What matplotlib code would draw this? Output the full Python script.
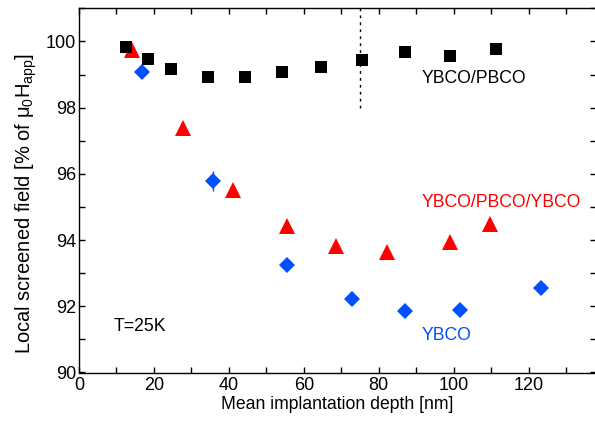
import matplotlib
matplotlib.use("Agg")
import matplotlib.pyplot as plt
from matplotlib.ticker import MultipleLocator

plt.rcParams['font.family'] = ['Liberation Sans', 'DejaVu Sans']
plt.rcParams['mathtext.fontset'] = 'custom'
plt.rcParams['mathtext.rm'] = 'Liberation Sans'
plt.rcParams['mathtext.it'] = 'Liberation Sans'

# YBCO/PBCO (black squares)
pb_x = [12.5, 18.5, 24.6, 34.4, 44.2, 54.1, 64.6, 75.5, 86.9, 98.9, 111.2]
pb_y = [99.83, 99.48, 99.18, 98.94, 98.94, 99.07, 99.22, 99.45, 99.69, 99.56, 99.76]

# YBCO/PBCO/YBCO (red triangles)
pby_x = [14.2, 27.7, 41.2, 55.6, 68.6, 82.3, 98.9, 109.6]
pby_y = [99.75, 97.39, 95.5, 94.42, 93.82, 93.63, 93.94, 94.48]

# YBCO (blue diamonds)
y_x = [16.7, 35.7, 55.6, 73.0, 87.1, 101.8, 123.4]
y_y = [99.07, 95.78, 93.25, 92.21, 91.87, 91.89, 92.54]
y_err = [0.0, 0.3, 0.0, 0.0, 0.0, 0.0, 0.0]

blue = '#0050ff'
red = '#ff0000'

fig = plt.figure(figsize=(5.95, 4.21), dpi=100)
ax = fig.add_axes([79/595, (421-372.5)/421, (596-79)/595, (372.5-8.3)/421])

ax.plot([75, 75], [98, 101], linestyle=(0, (2, 3)), color='black', lw=1.0)

ax.errorbar(y_x, y_y, yerr=y_err, fmt='D', color=blue, ms=8.0, mew=0,
            elinewidth=1.0, capsize=0, zorder=3)
ax.plot(pby_x, pby_y, '^', color=red, ms=11.5, mew=0, zorder=3)
ax.plot(pb_x, pb_y, 's', color='black', ms=8.6, mew=0, zorder=4)

ax.set_xlim(0, 138)
ax.set_ylim(90, 101)
ax.xaxis.set_major_locator(MultipleLocator(20))
ax.xaxis.set_minor_locator(MultipleLocator(10))
ax.yaxis.set_major_locator(MultipleLocator(2))
ax.yaxis.set_minor_locator(MultipleLocator(1))
ax.tick_params(which='both', direction='in', top=True, right=True, length=4, width=1.0,
               labelsize=13)
ax.tick_params(axis='x', pad=3)
ax.tick_params(axis='y', pad=2)
for s in ax.spines.values():
    s.set_linewidth(1.0)

ax.set_xlabel('Mean implantation depth [nm]', fontsize=12.7, labelpad=2)
ax.set_ylabel(r'Local screened field [% of $\mu_0$H$_{\rm app}$]', fontsize=14.5)
ax.yaxis.set_label_coords(-0.078, 0.463)

ax.text(91.5, 98.88, 'YBCO/PBCO', color='black', fontsize=12.7, va='center', ha='left')
ax.text(91.5, 95.14, 'YBCO/PBCO/YBCO', color=red, fontsize=12.7, va='center', ha='left')
ax.text(91.5, 91.12, 'YBCO', color=blue, fontsize=12.7, va='center', ha='left')
ax.text(9.2, 91.39, 'T=25K', color='black', fontsize=12.7, va='center', ha='left')

fig.savefig('out.png', dpi=100)
